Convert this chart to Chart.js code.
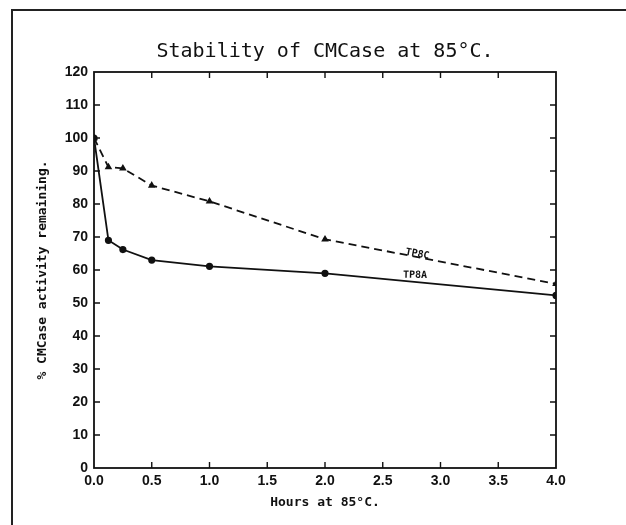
<!DOCTYPE html>
<html lang="en">

<head>
  <meta charset="UTF-8">
  <title>Stability of CMCase at 85°C</title>
  <script src="https://cdn.jsdelivr.net/npm/chart.js"></script>
  <style>
    body {
      margin: 0;
      background-color: white;
    }

    .frame {
      position: absolute;
      left: 11px;
      top: 9px;
      width: 700px;
      height: 600px;
      border-left: 2px solid #222;
      border-top: 2px solid #222;
    }

    canvas {
      position: absolute;
      left: 0;
      top: 0;
    }
  </style>
</head>

<body>

  <div class="frame"></div>
  <canvas id="stabChart" width="626" height="525"></canvas>

  <script>
    // hours of incubation at 85°C
    const hours = [0, 0.125, 0.25, 0.5, 1, 2, 4];
    // % activity remaining
    const tp8a = [100, 69, 66.2, 63, 61.1, 59, 52.3];
    const tp8c = [100, 91.2, 90.8, 85.6, 80.8, 69.3, 55.8];

    const xTicks = [0, 0.5, 1, 1.5, 2, 2.5, 3, 3.5, 4];
    const yTicks = [0, 10, 20, 30, 40, 50, 60, 70, 80, 90, 100, 110, 120];

    // where the curve names sit (hours, %)
    const curveLabels = [
      { text: 'TP8C', x: 2.8, y: 64.8, angle: 0.19 },
      { text: 'TP8A', x: 2.78, y: 58.4, angle: 0.02 }
    ];

    const ink = '#111';

    function toPoints(ys) {
      return hours.map((h, i) => ({ x: h, y: ys[i] }));
    }

    // box round the plot, inward ticks on all four sides, curve names
    const plotFrame = {
      id: 'plotFrame',
      afterDraw(chart) {
        const { ctx, chartArea: a, scales: { x, y } } = chart;
        ctx.save();
        ctx.strokeStyle = ink;
        ctx.lineWidth = 1.8;
        ctx.strokeRect(a.left, a.top, a.right - a.left, a.bottom - a.top);

        ctx.lineWidth = 1.4;
        ctx.beginPath();
        xTicks.slice(1, -1).forEach(v => {
          const px = x.getPixelForValue(v);
          ctx.moveTo(px, a.bottom); ctx.lineTo(px, a.bottom - 6);
          ctx.moveTo(px, a.top); ctx.lineTo(px, a.top + 6);
        });
        yTicks.slice(1, -1).forEach(v => {
          const py = y.getPixelForValue(v);
          ctx.moveTo(a.left, py); ctx.lineTo(a.left + 6, py);
          ctx.moveTo(a.right, py); ctx.lineTo(a.right - 6, py);
        });
        ctx.stroke();

        ctx.fillStyle = ink;
        ctx.font = 'bold 10px "DejaVu Sans Mono"';
        ctx.textAlign = 'center';
        ctx.textBaseline = 'middle';
        curveLabels.forEach(l => {
          ctx.save();
          ctx.translate(x.getPixelForValue(l.x), y.getPixelForValue(l.y));
          ctx.rotate(l.angle);
          ctx.fillText(l.text, 0, 0);
          ctx.restore();
        });
        ctx.restore();
      }
    };

    new Chart(document.getElementById('stabChart'), {
      type: 'line',
      data: {
        datasets: [
          {
            label: 'TP8A',
            data: toPoints(tp8a),
            borderColor: ink,
            backgroundColor: ink,
            borderWidth: 1.8,
            pointStyle: 'circle',
            pointRadius: 2.7,
            tension: 0
          },
          {
            label: 'TP8C',
            data: toPoints(tp8c),
            borderColor: ink,
            backgroundColor: ink,
            borderWidth: 1.8,
            borderDash: [8, 5],
            pointStyle: 'triangle',
            pointRadius: 2.6,
            tension: 0
          }
        ]
      },
      options: {
        responsive: false,
        animation: false,
        devicePixelRatio: 1,
        layout: { padding: { left: 0, right: 70, top: 0, bottom: 0 } },
        plugins: {
          legend: { display: false },
          tooltip: { enabled: false },
          title: {
            display: true,
            fullSize: false,
            text: 'Stability of CMCase at 85°C.',
            color: ink,
            font: { family: '"DejaVu Sans Mono"', size: 20, weight: 'normal', lineHeight: 1.2 },
            padding: { top: 40, bottom: 8 }
          }
        },
        scales: {
          x: {
            type: 'linear',
            min: 0,
            max: 4,
            afterFit: s => { s.height = 57; },
            afterBuildTicks: s => { s.ticks = xTicks.map(v => ({ value: v })); },
            grid: { display: false, drawTicks: false },
            border: { display: false },
            ticks: {
              color: ink,
              padding: 5,
              font: { family: '"Liberation Sans"', size: 14, weight: 'bold' },
              callback: v => v.toFixed(1)
            },
            title: {
              display: true,
              text: 'Hours at 85°C.',
              color: ink,
              font: { family: '"DejaVu Sans Mono"', size: 13, weight: 'bold' },
              padding: { top: 0, bottom: 15 }
            }
          },
          y: {
            min: 0,
            max: 120,
            afterFit: s => { s.width = 94; },
            afterBuildTicks: s => { s.ticks = yTicks.map(v => ({ value: v })); },
            grid: { display: false, drawTicks: false },
            border: { display: false },
            ticks: {
              color: ink,
              padding: 6,
              font: { family: '"Liberation Sans"', size: 14, weight: 'bold' }
            },
            title: {
              display: true,
              text: '% CMCase activity remaining.',
              color: ink,
              font: { family: '"DejaVu Sans Mono"', size: 13, weight: 'bold' },
              padding: { top: 35, bottom: 0 }
            }
          }
        }
      },
      plugins: [plotFrame]
    });
  </script>

</body>

</html>
